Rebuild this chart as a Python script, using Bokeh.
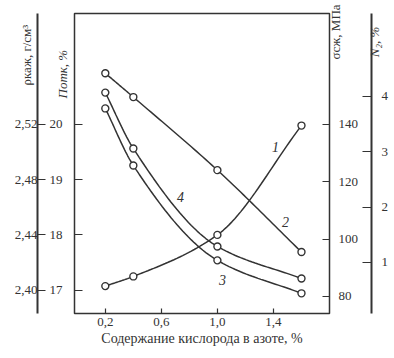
import json
from math import pi
import numpy as np
from bokeh.plotting import figure
from bokeh.models import Range1d, LinearAxis, FixedTicker, CustomJSTickFormatter, Label
from bokeh.embed import file_html
from bokeh.resources import INLINE

# ---- data ----
oxygen = [0.2, 0.4, 1.0, 1.6]                 # Содержание кислорода в азоте, %
rho_kazh = [2.403, 2.410, 2.440, 2.519]       # curve 1, г/см3
p_otk = [20.92, 20.49, 19.17, 17.69]          # curve 2, %
sigma_szh = [145.6, 125.7, 92.6, 81.1]        # curve 3, МПа
n2 = [4.07, 3.06, 1.29, 0.71]                 # curve 4, %

x_ticks = [0.2, 0.6, 1.0, 1.4]
p_ticks = [17, 18, 19, 20]
rho_ticks = [2.40, 2.44, 2.48, 2.52]
sigma_ticks = [80, 100, 120, 140]
n2_ticks = [1, 2, 3, 4]

FONT = "Liberation Serif"
INK = "#333333"
NB = "\u00a0"


def smooth(x, y, n=30):
    """monotone cubic curve through the measured points (drawing only)"""
    x = np.asarray(x, float); y = np.asarray(y, float)
    h = np.diff(x); d = np.diff(y) / h
    m = np.zeros_like(y)
    m[0], m[-1] = d[0], d[-1]
    for k in range(1, len(x) - 1):
        if d[k - 1] * d[k] <= 0:
            m[k] = 0
        else:
            w1 = 2 * h[k] + h[k - 1]; w2 = h[k] + 2 * h[k - 1]
            m[k] = (w1 + w2) / (w1 / d[k - 1] + w2 / d[k])
    xs, ys = [], []
    for k in range(len(x) - 1):
        t = np.linspace(0, 1, n)
        h00 = 2 * t**3 - 3 * t**2 + 1; h10 = t**3 - 2 * t**2 + t
        h01 = -2 * t**3 + 3 * t**2; h11 = t**3 - t**2
        yy = h00 * y[k] + h10 * h[k] * m[k] + h01 * y[k + 1] + h11 * h[k] * m[k + 1]
        xs.extend(x[k] + t * h[k]); ys.extend(yy)
    return xs, ys


p = figure(frame_width=255, frame_height=300, x_range=Range1d(-0.02, 1.8), y_range=Range1d(16.58, 22.0),
           y_axis_location=None, output_backend="svg", toolbar_location=None,
           min_border_left=74, min_border_right=57, min_border_top=13, min_border_bottom=37)
p.extra_y_ranges = {"rho": Range1d(2.3832, 2.6000), "sigma": Range1d(74.07, 178.7),
                    "n2": Range1d(0.078, 5.5)}
p.xgrid.visible = False
p.ygrid.visible = False
p.outline_line_color = INK
p.outline_line_width = 1.5
p.background_fill_color = "white"
p.border_fill_color = "white"


def fmt(code):
    return CustomJSTickFormatter(code=code)


def axis(side, ticks, rng="default", digits=None, tick_in=0, standoff=0, line=False, text=None,
         italic=False, orient=None):
    ax = LinearAxis(y_range_name=rng, ticker=FixedTicker(ticks=ticks))
    ax.axis_line_color = INK if line else None
    ax.axis_line_width = 2
    ax.major_tick_line_color = INK if tick_in else None
    ax.major_tick_line_width = 1.2
    ax.major_tick_in = tick_in
    ax.major_tick_out = 0
    ax.minor_tick_line_color = None
    ax.major_label_standoff = standoff
    ax.major_label_text_font = FONT
    ax.major_label_text_font_size = "13px"
    ax.major_label_text_color = INK
    ax.major_label_text_font_style = "italic" if italic else "normal"
    if orient is not None:
        ax.major_label_orientation = orient
    if text is not None:
        ax.formatter = fmt("return %s;" % json.dumps(text))
    elif digits is None:
        ax.formatter = fmt('return "";')
    else:
        ax.formatter = fmt("return tick.toFixed(%d).replace('.', ',');" % digits)
    p.add_layout(ax, side)
    return ax


def spacer(side, size, standoff):
    sp = LinearAxis(ticker=FixedTicker(ticks=[]))
    sp.axis_line_color = None
    sp.major_tick_line_color = None
    sp.minor_tick_line_color = None
    sp.major_label_standoff = 0
    sp.axis_label = NB
    sp.axis_label_text_font_size = size
    sp.axis_label_standoff = standoff
    p.add_layout(sp, side)


# x axis
xa = p.xaxis[0]
xa.ticker = FixedTicker(ticks=x_ticks)
xa.formatter = fmt("return tick.toFixed(1).replace('.', ',');")
xa.major_label_text_font = FONT
xa.major_label_text_font_size = "13px"
xa.major_label_text_color = INK
xa.major_tick_line_color = INK
xa.major_tick_line_width = 1.2
xa.minor_tick_line_color = None
xa.major_tick_out = 0
xa.major_tick_in = 5
xa.axis_line_color = None
xa.major_label_standoff = 4
xa.axis_label = "Содержание кислорода в азоте, %"
xa.axis_label_text_font = FONT
xa.axis_label_text_font_style = "normal"
xa.axis_label_text_font_size = "14px"
xa.axis_label_text_color = INK
xa.axis_label_standoff = 2

# left side, from the frame outwards
axis("left", p_ticks, tick_in=8)                                   # porosity ticks
axis("left", [20.904], standoff=4, text="Потк, %", italic=True, orient="vertical")
axis("left", p_ticks, digits=0, standoff=-10)                      # porosity numbers
spacer("left", "8px", -3)
axis("left", rho_ticks, rng="rho", digits=2, tick_in=8, standoff=0, line=True)
axis("left", [21.248], standoff=-23, text="ρкаж, г/см³", orient="vertical")

# right side, from the frame outwards
axis("right", sigma_ticks, rng="sigma", tick_in=7)                 # strength ticks
axis("right", [21.17], standoff=6, text="σсж, МПа", orient=pi / 2)
axis("right", sigma_ticks, rng="sigma", digits=0, standoff=-15)    # strength numbers
spacer("right", "8px", -2)
axis("right", n2_ticks, rng="n2", digits=0, tick_in=9, standoff=10, line=True)
axis("right", [21.21], standoff=-17, text="N₂, %", italic=True, orient=pi / 2)

# curves
series = [(rho_kazh, "rho"), (p_otk, "default"), (sigma_szh, "sigma"), (n2, "n2")]
for vals, rng in series:
    sx, sy = smooth(oxygen, vals)
    p.line(sx, sy, y_range_name=rng, line_color=INK, line_width=1.5)
    p.scatter(oxygen, vals, y_range_name=rng, size=7, marker="circle",
              fill_color="white", line_color=INK, line_width=1.4)

# curve numbers
for txt, x, y in [("1", 1.414, 19.58), ("2", 1.486, 18.23), ("3", 1.036, 17.18), ("4", 0.736, 18.68)]:
    p.add_layout(Label(x=x, y=y, text=txt, text_font=FONT, text_font_style="italic",
                       text_font_size="14px", text_color=INK, text_align="center",
                       text_baseline="middle"))

open("out.html", "w").write(file_html(p, INLINE))
